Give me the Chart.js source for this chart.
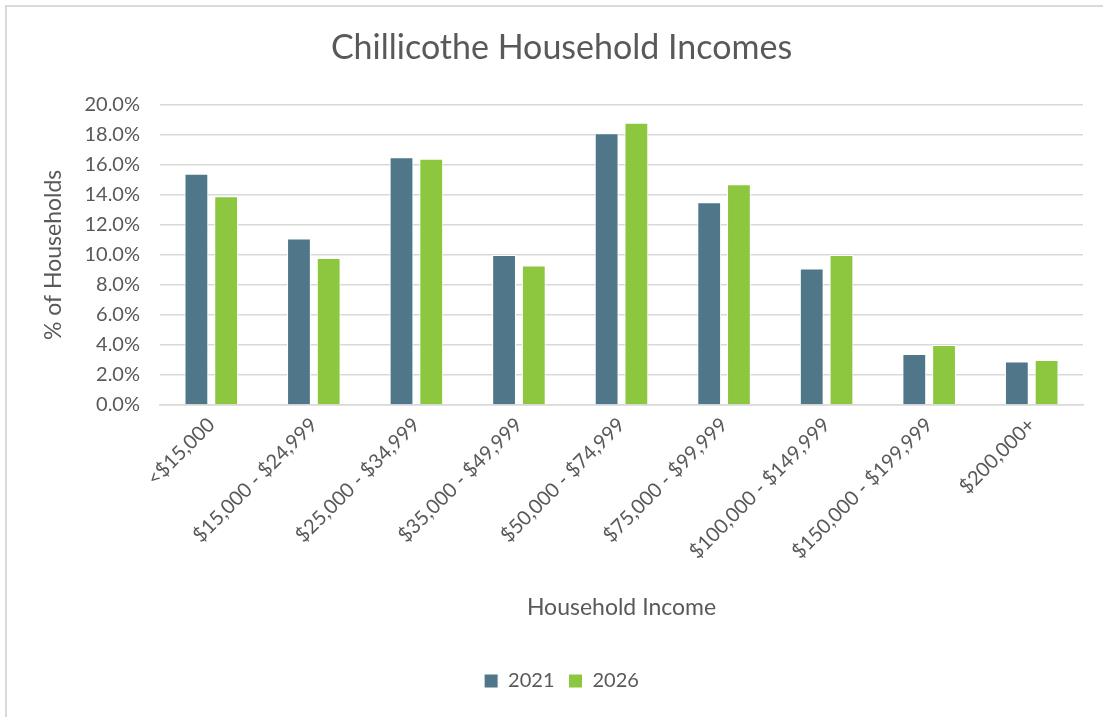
<!DOCTYPE html>
<html>
<head>
<meta charset="utf-8">
<script src="https://cdn.jsdelivr.net/npm/chart.js@4"></script>
<style>
  html, body { margin: 0; padding: 0; background: #ffffff; }
  #frame {
    position: absolute; left: 5px; top: 5px; width: 1200px; height: 800px;
    border-left: 2px solid #d9d9d9; border-top: 2px solid #d9d9d9;
  }
  #wrap { position: absolute; left: 0; top: 0; width: 1103px; height: 717px; }
</style>
</head>
<body>
<div id="frame"></div>
<div id="wrap"><canvas id="incomeChart"></canvas></div>
<script>
"use strict";

const incomeBrackets = [
  "<$15,000", "$15,000 - $24,999", "$25,000 - $34,999", "$35,000 - $49,999",
  "$50,000 - $74,999", "$75,000 - $99,999", "$100,000 - $149,999",
  "$150,000 - $199,999", "$200,000+",
];
const share2021 = [15.4, 11.1, 16.5, 10.0, 18.1, 13.5, 9.1, 3.4, 2.9];
const share2026 = [13.9, 9.8, 16.4, 9.3, 18.8, 14.7, 10.0, 4.0, 3.0];
const yTicks = [0, 2, 4, 6, 8, 10, 12, 14, 16, 18, 20];

const textColor = "#595959";
const gridColor = "#d9d9d9";
const fontFamily = "Lato, 'Open Sans', sans-serif";

const ctx = document.getElementById("incomeChart").getContext("2d");

new Chart(ctx, {
  type: "bar",
  data: {
    labels: incomeBrackets,
    datasets: [
      {
        label: "2021",
        data: share2021,
        backgroundColor: "#50768a",
        borderColor: "#ffffff",
        borderWidth: 1,
      },
      {
        label: "2026",
        data: share2026,
        backgroundColor: "#8dc63f",
        borderColor: "#ffffff",
        borderWidth: 1,
      },
    ],
  },
  options: {
    responsive: true,
    maintainAspectRatio: false,
    animation: false,
    categoryPercentage: 0.58,
    barPercentage: 0.8,
    layout: { padding: { left: 40, right: 20, top: 0, bottom: 16 } },
    scales: {
      x: {
        grid: { display: false, drawTicks: false },
        border: { color: gridColor, width: 1.5 },
        ticks: {
          color: textColor,
          font: { family: fontFamily, size: 20 },
          minRotation: 45,
          maxRotation: 45,
          padding: 8,
        },
        title: {
          display: true,
          text: "Household Income",
          color: textColor,
          font: { family: fontFamily, size: 23 },
          padding: { top: 4, bottom: 36 },
        },
        afterFit: (scale) => {
          scale.height = 252;
        },
      },
      y: {
        min: 0,
        max: 20,
        afterBuildTicks: (scale) => {
          scale.ticks = yTicks.map((v) => ({ value: v }));
        },
        grid: { color: gridColor, lineWidth: 1.5, drawTicks: false },
        border: { display: false },
        ticks: {
          color: textColor,
          font: { family: fontFamily, size: 20 },
          padding: 20,
          callback: (v) => v.toFixed(1) + "%",
        },
        title: {
          display: true,
          text: "% of Households",
          color: textColor,
          font: { family: fontFamily, size: 23 },
          padding: { top: 0, bottom: 0 },
        },
        afterFit: (scale) => {
          scale.width = 120;
        },
      },
    },
    plugins: {
      title: {
        display: true,
        text: "Chillicothe Household Incomes",
        color: textColor,
        font: { family: fontFamily, size: 34, weight: "normal" },
        padding: { top: 28, bottom: 36 },
      },
      legend: {
        position: "bottom",
        labels: {
          color: textColor,
          font: { family: fontFamily, size: 20 },
          boxWidth: 14,
          boxHeight: 14,
          padding: 14,
        },
      },
      tooltip: { enabled: false },
    },
  },
});
</script>
</body>
</html>
